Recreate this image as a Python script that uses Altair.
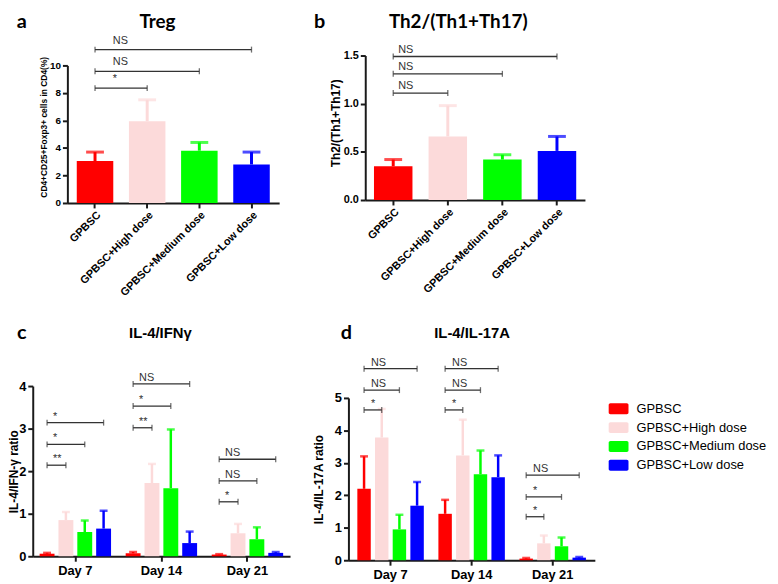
import altair as alt
import pandas as pd

FONT = "Liberation Sans"
TFONT = "Lato"
AX = "#1a1a1a"
BR = "#333333"

groups = ["GPBSC", "GPBSC+High dose", "GPBSC+Medium dose", "GPBSC+Low dose"]
group_colors = ["#FF0000", "#FCDADA", "#00FF00", "#0000FF"]
days = ["Day 7", "Day 14", "Day 21"]
compare_to = ["GPBSC+High dose", "GPBSC+Medium dose", "GPBSC+Low dose"]
panel_letters = ["a", "b", "c", "d"]
panel_titles = ["Treg", "Th2/(Th1+Th17)", "IL-4/IFNγ", "IL-4/IL-17A"]
y_titles = ["CD4+CD25+Foxp3+ cells in CD4(%)", "Th2/(Th1+Th17)",
            "IL-4/IFN-γ ratio", "IL-4/IL-17A ratio"]

# panel a : Treg
treg_mean = [3.05, 5.95, 3.80, 2.80]
treg_upper = [3.70, 7.50, 4.40, 3.70]
treg_sig_y = [8.35, 9.57, 11.15]
treg_sig = ["*", "NS", "NS"]
treg_ticks = [0, 2, 4, 6, 8, 10]

# panel b : Th2/(Th1+Th17)
th_mean = [0.35, 0.66, 0.42, 0.51]
th_upper = [0.42, 0.98, 0.47, 0.66]
th_sig_y = [1.11, 1.31, 1.49]
th_sig = ["NS", "NS", "NS"]
th_ticks = [0.0, 0.5, 1.0, 1.5]

# panel c : IL-4/IFN-gamma (values per day: Day 7, Day 14, Day 21)
ifn_gpbsc = [0.06, 0.07, 0.04]
ifn_high = [0.85, 1.72, 0.54]
ifn_medium = [0.57, 1.60, 0.40]
ifn_low = [0.65, 0.31, 0.08]
ifn_gpbsc_up = [0.08, 0.10, 0.05]
ifn_high_up = [1.04, 2.17, 0.76]
ifn_medium_up = [0.84, 2.98, 0.68]
ifn_low_up = [1.07, 0.58, 0.10]
ifn_sig_y = [[2.14, 2.63, 3.14], [3.02, 3.53, 4.05], [1.28, 1.77, 2.28]]
ifn_sig = [["**", "*", "*"], ["**", "*", "NS"], ["*", "NS", "NS"]]
ifn_ticks = [0, 1, 2, 3, 4]

# panel d : IL-4/IL-17A
il17_gpbsc = [2.20, 1.43, 0.05]
il17_high = [3.78, 3.23, 0.52]
il17_medium = [0.95, 2.65, 0.43]
il17_low = [1.68, 2.56, 0.08]
il17_gpbsc_up = [3.20, 1.86, 0.07]
il17_high_up = [4.66, 4.33, 0.76]
il17_medium_up = [1.40, 3.38, 0.70]
il17_low_up = [2.41, 3.23, 0.10]
il17_sig_y = [[4.63, 5.24, 5.90], [4.63, 5.24, 5.90], [1.34, 1.95, 2.62]]
il17_sig = [["*", "NS", "NS"], ["*", "NS", "NS"], ["*", "*", "NS"]]
il17_ticks = [0, 1, 2, 3, 4, 5]

CW, CH = 770, 576   # whole drawing area (page minus 8px margin)

color_scale = alt.Scale(domain=groups, range=group_colors)
LEGEND_PATH = ("M-1.18,-0.79H1.18A0.25,0.25 0 0 1 1.43,-0.54V0.54A0.25,0.25 0 0 1 1.18,0.79"
               "H-1.18A0.25,0.25 0 0 1 -1.43,0.54V-0.54A0.25,0.25 0 0 1 -1.18,-0.79Z")
LEG = alt.Legend(orient="none", legendX=610, legendY=395, title=None,
                 symbolType=LEGEND_PATH, symbolSize=196, symbolStrokeWidth=0,
                 symbolOpacity=1, labelFont=FONT, labelFontSize=13, labelColor="black",
                 labelOffset=11, rowPadding=5)
COLOR = alt.Color("group:N", scale=color_scale, legend=LEG)


def y_axis(ticks, fmt, size, title, tsize, ax_x, tx, ty):
    return alt.Axis(orient="left", values=ticks, format=fmt, domain=True, domainColor=AX,
                    domainWidth=2, grid=False, offset=-ax_x, tickColor=AX, tickWidth=2,
                    tickSize=5, labelFont=FONT, labelFontWeight="bold", labelFontSize=size,
                    labelColor="black", labelPadding=2, labelOverlap=False,
                    title=title, titleFont=FONT, titleFontWeight="bold",
                    titleFontSize=tsize, titleColor="black", titleX=tx, titleY=ty,
                    titleAlign="center", titleBaseline="middle", titleAngle=270)


def x_axis(base_y, angle, size):
    common = dict(orient="bottom", title=None, offset=base_y - CH, labelFont=FONT,
                  labelFontWeight="bold", labelFontSize=size, labelColor="black",
                  labelOverlap=False, domainColor=AX, domainWidth=2, tickColor=AX,
                  tickWidth=2, tickSize=5, grid=False)
    if angle:
        return alt.Axis(labelAngle=angle, labelAlign="right", labelBaseline="top",
                        labelPadding=1, **common)
    return alt.Axis(labelAngle=0, labelPadding=3, **common)


def text_mark(txt, x, y, font, size):
    return alt.Chart(pd.DataFrame({"t": [txt]})).mark_text(
        font=font, fontWeight="bold", fontSize=size, color="black",
        align="center", baseline="middle").encode(
        text="t:N", x=alt.value(x), y=alt.value(y))


def group_panel(idx, mean, upper, sig_y, sig, ticks, fmt, axis_top, xr, yr, pi, po,
                tick_size, ytsize, ytx, yty, xlab_size, tdx, tdy):
    df = pd.DataFrame({"group": groups, "mean": mean, "upper": upper})
    xs = alt.Scale(type="band", domain=groups, range=xr, paddingInner=pi, paddingOuter=po)
    ys = alt.Scale(domain=[0, axis_top], range=yr, nice=False, zero=True)

    def X(ax=None):
        return alt.X("group:N", scale=xs, axis=ax, title=None)

    def Y(f, ax=None):
        return alt.Y(f, scale=ys, axis=ax, title=None)

    base = alt.Chart(df)
    bars = base.mark_bar().encode(
        x=X(x_axis(yr[0], 315, xlab_size)),
        y=Y("mean:Q", y_axis(ticks, fmt, tick_size, y_titles[idx], ytsize, xr[0], ytx, yty)),
        color=COLOR)
    err = base.mark_rule(strokeWidth=3).encode(
        x=X(), y=Y("mean:Q"), y2="upper:Q", color=COLOR)
    cap = base.mark_tick(thickness=3, size=18).encode(
        x=X(), y=Y("upper:Q"), color=COLOR)

    rows = []
    for i, (tgt, yv, lab) in enumerate(zip(compare_to, sig_y, sig)):
        rows.append({"id": i, "group": groups[0], "y": yv, "label": lab, "start": True})
        rows.append({"id": i, "group": tgt, "y": yv, "label": lab, "start": False})
    br = alt.Chart(pd.DataFrame(rows))
    bl = br.mark_line(color=BR, strokeWidth=1.3).encode(
        x=X(), y=Y("y:Q"), detail="id:N")
    bc = br.mark_tick(orient="vertical", size=6, thickness=1.3, color=BR).encode(
        x=X(), y=Y("y:Q"))
    bt = br.transform_filter("datum.start").mark_text(
        align="left", baseline="bottom", dx=tdx, dy=tdy, font=FONT, fontSize=11,
        color=BR).encode(x=X(), y=Y("y:Q"), text="label:N")
    return [bars, err, cap, bl, bc, bt]


def day_panel(idx, means, uppers, sig_y, sig, ticks, axis_top, xr, yr, pi, po, opi,
              ytx, yty, tdx, tdy):
    rows = []
    for g, m, u in zip(groups, means, uppers):
        for d, mv, uv in zip(days, m, u):
            rows.append({"day": d, "group": g, "mean": mv, "upper": uv})
    df = pd.DataFrame(rows)
    xs = alt.Scale(type="band", domain=days, range=xr, paddingInner=pi, paddingOuter=po)
    os_ = alt.Scale(type="band", domain=groups, paddingInner=opi, paddingOuter=0)
    ys = alt.Scale(domain=[0, axis_top], range=yr, nice=False, zero=True)

    def X(ax=None):
        return alt.X("day:N", scale=xs, axis=ax, title=None)

    def Y(f, ax=None):
        return alt.Y(f, scale=ys, axis=ax, title=None)

    XO = alt.XOffset("group:N", scale=os_)
    base = alt.Chart(df)
    bars = base.mark_bar().encode(
        x=X(x_axis(yr[0], 0, 13)), xOffset=XO,
        y=Y("mean:Q", y_axis(ticks, "d", 13, y_titles[idx], 12, xr[0], ytx, yty)),
        color=COLOR)
    err = base.mark_rule(strokeWidth=2.5).encode(
        x=X(), xOffset=XO, y=Y("mean:Q"), y2="upper:Q", color=COLOR)
    cap = base.mark_tick(thickness=2.5, size=8).encode(
        x=X(), xOffset=XO, y=Y("upper:Q"), color=COLOR)

    brow = []
    for di, d in enumerate(days):
        for i, (tgt, yv, lab) in enumerate(zip(compare_to, sig_y[di], sig[di])):
            key = f"{d}-{i}"
            brow.append({"id": key, "day": d, "group": groups[0], "y": yv, "label": lab, "start": True})
            brow.append({"id": key, "day": d, "group": tgt, "y": yv, "label": lab, "start": False})
    br = alt.Chart(pd.DataFrame(brow))
    bl = br.mark_line(color=BR, strokeWidth=1.3).encode(
        x=X(), xOffset=XO, y=Y("y:Q"), detail="id:N")
    bc = br.mark_tick(orient="vertical", size=6, thickness=1.3, color=BR).encode(
        x=X(), xOffset=XO, y=Y("y:Q"))
    bt = br.transform_filter("datum.start").mark_text(
        align="left", baseline="bottom", dx=tdx, dy=tdy, font=FONT, fontSize=11,
        color=BR).encode(x=X(), xOffset=XO, y=Y("y:Q"), text="label:N")
    return [bars, err, cap, bl, bc, bt]


# pixel geometry below is relative to the drawing origin (page 8, 8)
layers = []
layers += group_panel(0, treg_mean, treg_upper, treg_sig_y, treg_sig, treg_ticks, "d", 10,
                      [60, 274], [194, 55], 0.3, 0.18, 10, 8.5, -24, 117, 11, 18, -4)
layers += group_panel(1, th_mean, th_upper, th_sig_y, th_sig, th_ticks, ".1f", 1.5,
                      [361, 583], [191, 45], 0.295, 0.16, 11, 12, -30, 113, 11, 5, -2)
layers += day_panel(2, [ifn_gpbsc, ifn_high, ifn_medium, ifn_low],
                    [ifn_gpbsc_up, ifn_high_up, ifn_medium_up, ifn_low_up],
                    ifn_sig_y, ifn_sig, ifn_ticks, 4, [25, 285], [551, 379],
                    0.17, 0.08, 0.21, -19, 465, 6, -1)
layers += day_panel(3, [il17_gpbsc, il17_high, il17_medium, il17_low],
                    [il17_gpbsc_up, il17_high_up, il17_medium_up, il17_low_up],
                    il17_sig_y, il17_sig, il17_ticks, 5, [344, 593], [555, 391],
                    0.18, 0.11, 0.24, -30, 473, 7, -1)

# panel letters and panel titles
layers += [
    text_mark(panel_letters[0], 14, 11, TFONT, 20),
    text_mark(panel_letters[1], 315, 11, TFONT, 20),
    text_mark(panel_letters[2], 14, 325, TFONT, 20),
    text_mark(panel_letters[3], 342, 325, TFONT, 20),
    text_mark(panel_titles[0], 151, 11, TFONT, 19),
    text_mark(panel_titles[1], 455, 11, TFONT, 19),
    text_mark(panel_titles[2], 154, 325, FONT, 15),
    text_mark(panel_titles[3], 469, 325, FONT, 15),
]

chart = alt.layer(*layers).resolve_scale(
    x="independent", y="independent", xOffset="independent", color="shared"
).properties(
    width=CW, height=CH, autosize=alt.AutoSizeParams(type="none"), padding=0
).configure_view(stroke=None)

chart.save("out.html", embed_options={"renderer": "svg", "actions": False})
